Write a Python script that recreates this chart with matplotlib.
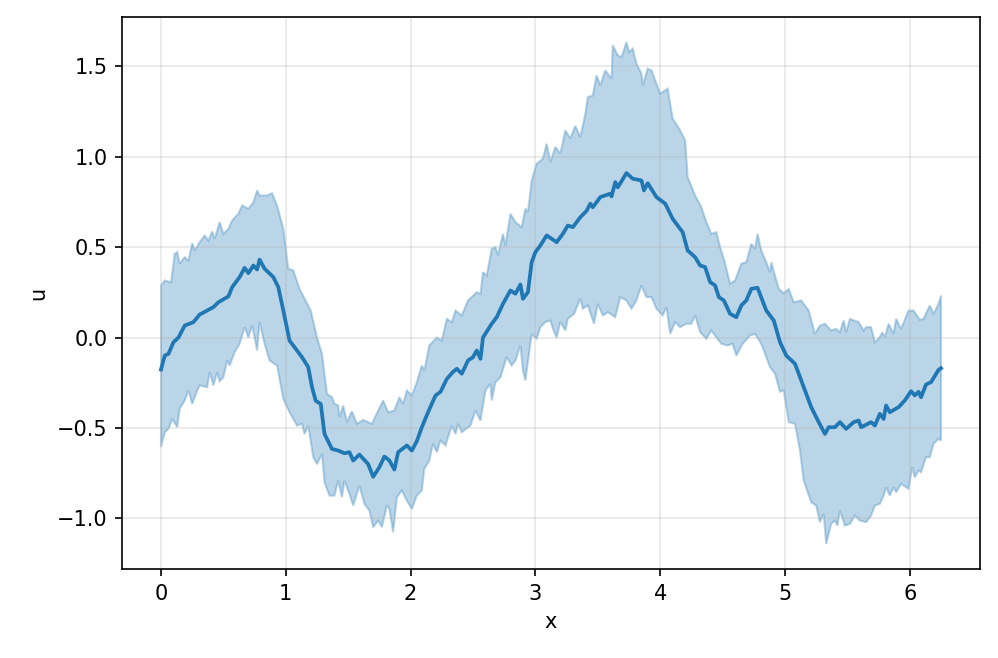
import matplotlib
matplotlib.use("Agg")
import matplotlib.pyplot as plt

# mean curve
mean_x = [0.00, 0.03, 0.06, 0.10, 0.14, 0.19, 0.26, 0.31, 0.38, 0.42, 0.46, 0.54, 0.57, 0.63, 0.67,
          0.70, 0.74, 0.77, 0.79, 0.83, 0.90, 0.94, 0.98, 1.03, 1.09, 1.13, 1.18, 1.21, 1.24, 1.28,
          1.31, 1.37, 1.42, 1.47, 1.51, 1.54, 1.59, 1.66, 1.70, 1.75, 1.79, 1.83, 1.87, 1.90, 1.97,
          2.01, 2.05, 2.09, 2.14, 2.20, 2.24, 2.29, 2.34, 2.37, 2.41, 2.46, 2.50, 2.53, 2.56, 2.58,
          2.65, 2.69, 2.74, 2.80, 2.84, 2.88, 2.90, 2.94, 2.97, 3.00, 3.04, 3.09, 3.13, 3.17, 3.22,
          3.26, 3.30, 3.36, 3.41, 3.44, 3.46, 3.52, 3.60, 3.61, 3.64, 3.66, 3.73, 3.78, 3.85, 3.87,
          3.90, 3.97, 4.04, 4.10, 4.14, 4.18, 4.22, 4.28, 4.32, 4.36, 4.40, 4.44, 4.47, 4.51, 4.56,
          4.61, 4.65, 4.69, 4.73, 4.78, 4.85, 4.91, 4.96, 5.01, 5.08, 5.15, 5.21, 5.27, 5.32, 5.35,
          5.40, 5.44, 5.49, 5.55, 5.59, 5.61, 5.69, 5.72, 5.76, 5.79, 5.81, 5.84, 5.91, 5.96, 6.01,
          6.04, 6.07, 6.09, 6.13, 6.17, 6.23, 6.25]
mean_u = [-0.177, -0.10, -0.09, -0.026, 0.0, 0.066, 0.085, 0.127, 0.153, 0.168, 0.195, 0.227, 0.278, 0.334, 0.385,
          0.356, 0.398, 0.376, 0.43, 0.38, 0.334, 0.278, 0.149, -0.017, -0.072, -0.109, -0.164, -0.275, -0.35, -0.367,
          -0.533, -0.616, -0.625, -0.64, -0.634, -0.68, -0.647, -0.70, -0.77, -0.717, -0.658, -0.68, -0.73, -0.634, -0.597,
          -0.625, -0.573, -0.496, -0.413, -0.32, -0.30, -0.229, -0.19, -0.173, -0.20, -0.127, -0.109, -0.072, -0.118, 0.0,
          0.076, 0.112, 0.186, 0.26, 0.242, 0.293, 0.214, 0.25, 0.416, 0.472, 0.509, 0.564, 0.546, 0.527, 0.573,
          0.619, 0.61, 0.665, 0.70, 0.74, 0.72, 0.776, 0.795, 0.78, 0.859, 0.83, 0.909, 0.878, 0.868, 0.813,
          0.853, 0.776, 0.74, 0.656, 0.619, 0.582, 0.481, 0.444, 0.398, 0.389, 0.306, 0.288, 0.223, 0.205, 0.131,
          0.112, 0.177, 0.205, 0.269, 0.275, 0.149, 0.094, -0.026, -0.10, -0.145, -0.275, -0.385, -0.468, -0.533, -0.496,
          -0.496, -0.468, -0.505, -0.468, -0.459, -0.496, -0.468, -0.487, -0.422, -0.45, -0.376, -0.413, -0.385, -0.348, -0.297,
          -0.32, -0.30, -0.33, -0.26, -0.247, -0.179, -0.17]

# upper bound of band
upper_x = [0.00, 0.03, 0.08, 0.11, 0.13, 0.15, 0.19, 0.22, 0.25, 0.27, 0.31, 0.35, 0.38, 0.41, 0.43,
           0.47, 0.50, 0.54, 0.57, 0.62, 0.65, 0.70, 0.74, 0.77, 0.79, 0.85, 0.89, 0.93, 0.98, 1.02,
           1.06, 1.11, 1.20, 1.25, 1.29, 1.33, 1.37, 1.39, 1.42, 1.43, 1.46, 1.49, 1.53, 1.57, 1.62,
           1.69, 1.73, 1.78, 1.82, 1.87, 1.91, 1.94, 1.97, 2.01, 2.05, 2.09, 2.11, 2.15, 2.21, 2.25,
           2.29, 2.33, 2.36, 2.41, 2.46, 2.53, 2.56, 2.58, 2.61, 2.65, 2.68, 2.70, 2.74, 2.76, 2.80,
           2.84, 2.89, 2.92, 2.94, 2.97, 3.01, 3.06, 3.09, 3.12, 3.16, 3.20, 3.24, 3.28, 3.32, 3.36,
           3.40, 3.42, 3.46, 3.49, 3.52, 3.56, 3.61, 3.62, 3.66, 3.69, 3.73, 3.75, 3.78, 3.81, 3.85,
           3.86, 3.90, 3.93, 4.00, 4.06, 4.10, 4.16, 4.20, 4.22, 4.28, 4.33, 4.37, 4.41, 4.45, 4.48,
           4.51, 4.56, 4.60, 4.65, 4.69, 4.73, 4.76, 4.78, 4.81, 4.85, 4.88, 4.89, 4.95, 4.99, 5.03,
           5.07, 5.13, 5.19, 5.24, 5.28, 5.32, 5.37, 5.41, 5.44, 5.47, 5.49, 5.52, 5.59, 5.63, 5.65,
           5.69, 5.72, 5.75, 5.78, 5.80, 5.83, 5.87, 5.89, 5.93, 5.99, 6.03, 6.08, 6.11, 6.16, 6.19,
           6.23, 6.25]
upper_u = [0.288, 0.315, 0.306, 0.463, 0.472, 0.408, 0.444, 0.426, 0.522, 0.481, 0.527, 0.564, 0.536, 0.586, 0.546,
           0.638, 0.573, 0.601, 0.647, 0.684, 0.73, 0.712, 0.748, 0.813, 0.785, 0.785, 0.798, 0.73, 0.601, 0.38,
           0.371, 0.269, 0.149, 0.0, -0.09, -0.311, -0.33, -0.367, -0.376, -0.44, -0.376, -0.468, -0.408, -0.477, -0.455,
           -0.477, -0.419, -0.348, -0.413, -0.404, -0.33, -0.367, -0.293, -0.32, -0.247, -0.155, -0.183, -0.044, 0.0, -0.017,
           0.103, 0.085, 0.149, 0.122, 0.205, 0.25, 0.242, 0.361, 0.343, 0.49, 0.50, 0.454, 0.573, 0.509, 0.684,
           0.638, 0.61, 0.712, 0.693, 0.868, 0.961, 0.988, 1.071, 0.97, 1.053, 1.016, 1.145, 1.10, 1.17, 1.108,
           1.237, 1.329, 1.338, 1.449, 1.394, 1.477, 1.431, 1.615, 1.56, 1.55, 1.633, 1.578, 1.597, 1.514, 1.459,
           1.394, 1.486, 1.477, 1.348, 1.376, 1.21, 1.145, 1.09, 0.887, 0.785, 0.72, 0.638, 0.573, 0.582, 0.50,
           0.435, 0.297, 0.315, 0.408, 0.416, 0.518, 0.49, 0.573, 0.481, 0.416, 0.361, 0.416, 0.269, 0.245, 0.269,
           0.195, 0.205, 0.149, 0.02, 0.066, 0.076, 0.039, 0.048, 0.029, 0.094, 0.029, 0.103, 0.085, 0.039, 0.057,
           0.057, -0.026, -0.007, 0.029, 0.002, 0.076, 0.02, 0.103, 0.048, 0.149, 0.149, 0.098, 0.103, 0.177, 0.131,
           0.186, 0.232]

# lower bound of band
lower_x = [0.00, 0.03, 0.06, 0.09, 0.13, 0.15, 0.19, 0.22, 0.25, 0.29, 0.31, 0.37, 0.39, 0.42, 0.45,
           0.47, 0.50, 0.53, 0.55, 0.59, 0.63, 0.67, 0.70, 0.73, 0.75, 0.77, 0.79, 0.83, 0.87, 0.93,
           0.98, 1.03, 1.09, 1.13, 1.15, 1.18, 1.22, 1.25, 1.29, 1.31, 1.35, 1.39, 1.42, 1.45, 1.47,
           1.51, 1.54, 1.59, 1.63, 1.67, 1.70, 1.74, 1.77, 1.81, 1.83, 1.86, 1.89, 1.93, 1.97, 2.01,
           2.05, 2.09, 2.11, 2.15, 2.18, 2.21, 2.24, 2.28, 2.33, 2.36, 2.38, 2.41, 2.48, 2.52, 2.56,
           2.60, 2.64, 2.65, 2.68, 2.72, 2.77, 2.81, 2.84, 2.88, 2.90, 2.92, 2.97, 3.01, 3.04, 3.08,
           3.12, 3.14, 3.17, 3.20, 3.24, 3.26, 3.31, 3.36, 3.38, 3.42, 3.47, 3.50, 3.54, 3.58, 3.64,
           3.68, 3.73, 3.77, 3.81, 3.85, 3.89, 3.93, 3.97, 4.02, 4.05, 4.08, 4.12, 4.16, 4.21, 4.25,
           4.28, 4.32, 4.37, 4.41, 4.45, 4.49, 4.54, 4.58, 4.61, 4.66, 4.72, 4.76, 4.81, 4.88, 4.92,
           4.96, 4.99, 5.03, 5.08, 5.12, 5.15, 5.21, 5.25, 5.28, 5.31, 5.33, 5.37, 5.40, 5.42, 5.44,
           5.48, 5.52, 5.56, 5.60, 5.65, 5.69, 5.72, 5.76, 5.79, 5.81, 5.84, 5.87, 5.89, 5.93, 5.99,
           6.02, 6.04, 6.07, 6.09, 6.13, 6.16, 6.19, 6.23, 6.25]
lower_u = [-0.605, -0.524, -0.505, -0.45, -0.496, -0.394, -0.348, -0.293, -0.367, -0.293, -0.265, -0.275, -0.192, -0.265, -0.192,
           -0.242, -0.22, -0.127, -0.155, -0.081, -0.035, 0.057, 0.0, 0.066, 0.0, -0.072, 0.085, -0.035, -0.127, -0.155,
           -0.339, -0.413, -0.487, -0.477, -0.533, -0.487, -0.662, -0.70, -0.643, -0.80, -0.874, -0.874, -0.791, -0.883, -0.791,
           -0.865, -0.929, -0.819, -0.92, -0.957, -1.049, -1.012, -1.049, -0.929, -0.948, -1.077, -0.883, -0.846, -0.902, -0.948,
           -0.874, -0.846, -0.726, -0.68, -0.588, -0.634, -0.57, -0.597, -0.487, -0.533, -0.477, -0.524, -0.487, -0.404, -0.459,
           -0.293, -0.256, -0.348, -0.247, -0.22, -0.109, -0.155, -0.127, -0.044, -0.183, -0.238, 0.02, -0.007, 0.057, 0.085,
           0.094, 0.048, 0.0, 0.085, 0.039, 0.103, 0.131, 0.214, 0.159, 0.177, 0.076, 0.186, 0.122, 0.14, 0.112,
           0.223, 0.205, 0.159, 0.205, 0.288, 0.223, 0.223, 0.159, 0.122, 0.168, 0.02, 0.085, 0.057, 0.076, 0.076,
           0.122, 0.029, -0.007, 0.039, 0.0, -0.035, -0.044, -0.035, -0.10, -0.035, 0.011, 0.02, -0.035, -0.164, -0.20,
           -0.30, -0.293, -0.468, -0.477, -0.625, -0.791, -0.911, -0.929, -1.021, -0.975, -1.141, -1.03, -1.012, -1.04, -0.957,
           -1.04, -1.03, -0.985, -1.012, -1.021, -0.985, -0.929, -0.92, -0.874, -0.828, -0.874, -0.828, -0.856, -0.809, -0.837,
           -0.717, -0.773, -0.736, -0.745, -0.662, -0.662, -0.588, -0.56, -0.57]

fig = plt.figure(figsize=(998 / 150, 658 / 150), dpi=150)
ax = fig.add_axes([122 / 998, 1 - 569 / 658, (980 - 122) / 998, (569 - 17) / 658])

band_x = upper_x + lower_x[::-1]
band_y = upper_u + lower_u[::-1]
ax.fill(band_x, band_y, facecolor="C0", edgecolor="C0", alpha=0.3, linewidth=1.0)
ax.plot(mean_x, mean_u, color="C0", linewidth=1.8)

ax.grid(True, alpha=0.3)
ax.set_xlabel("x")
ax.set_ylabel("u")
ax.set_xticks([0, 1, 2, 3, 4, 5, 6])
ax.set_yticks([-1.0, -0.5, 0.0, 0.5, 1.0, 1.5])

fig.savefig("out.png", dpi=150)
